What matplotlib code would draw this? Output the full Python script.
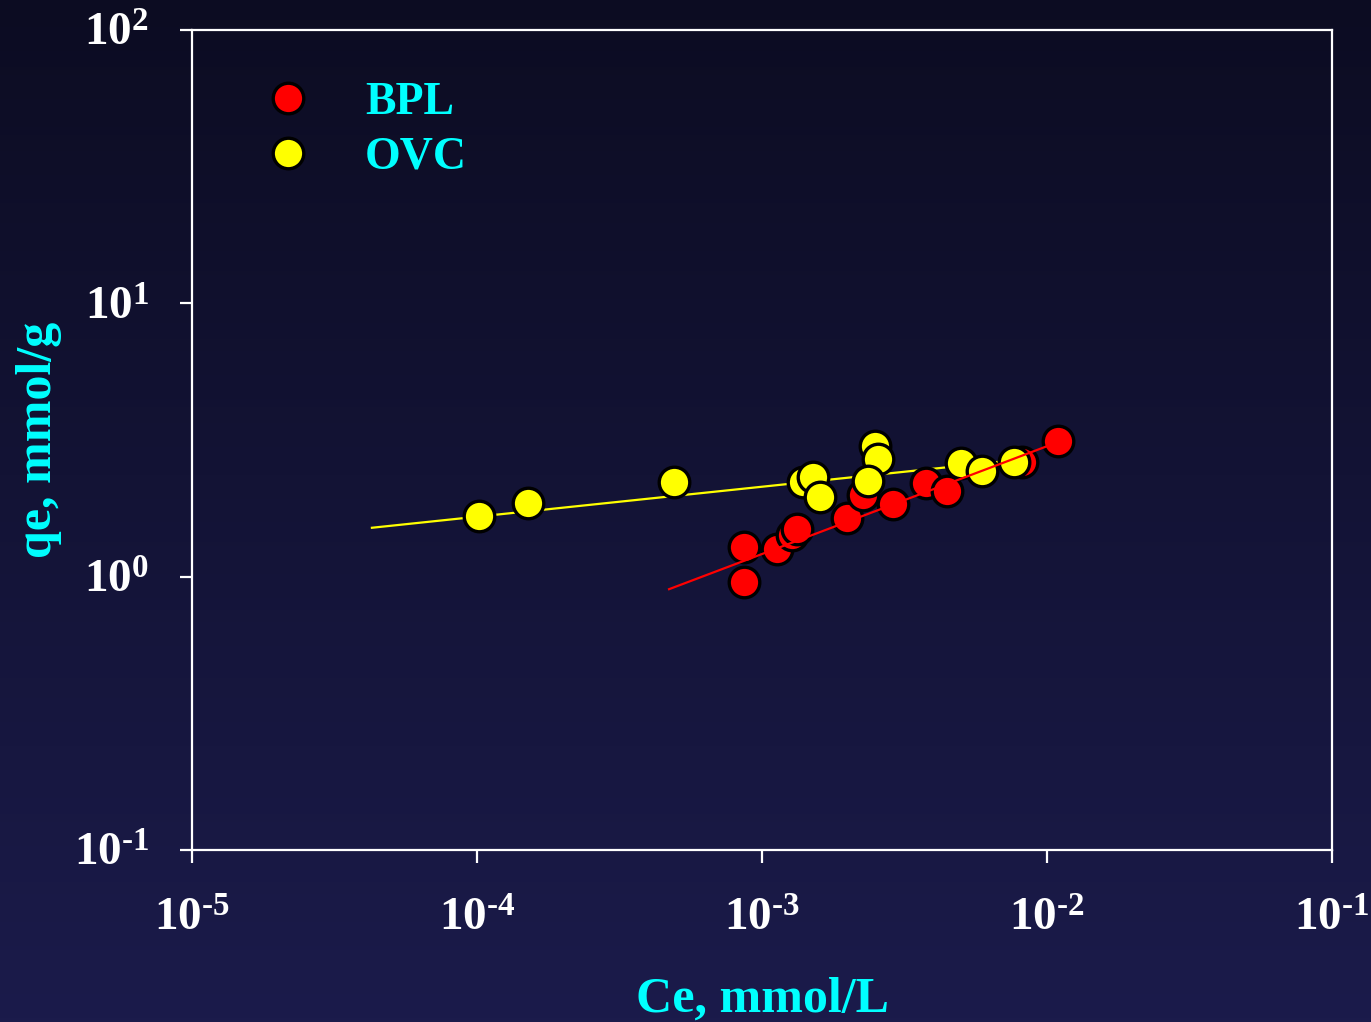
import numpy as np
import matplotlib
matplotlib.use('Agg')
import matplotlib.pyplot as plt
from matplotlib.ticker import NullLocator

# Dados (Ce em mmol/L, qe em mmol/g)
bpl_ce = [8.65e-4, 8.65e-4, 1.13e-3, 1.27e-3, 1.33e-3, 1.99e-3, 2.26e-3, 2.88e-3, 3.76e-3, 4.46e-3, 8.17e-3, 1.09e-2]
bpl_qe = [1.28, 0.956, 1.26, 1.42, 1.49, 1.64, 1.99, 1.84, 2.20, 2.06, 2.63, 3.14]
ovc_ce = [1.02e-4, 1.51e-4, 4.91e-4, 1.39e-3, 1.51e-3, 1.60e-3, 2.49e-3, 2.55e-3, 2.36e-3, 4.99e-3, 5.92e-3, 7.65e-3]
ovc_qe = [1.67, 1.86, 2.22, 2.22, 2.32, 1.96, 3.01, 2.69, 2.24, 2.60, 2.44, 2.63]

# Retas de ajuste (extremos)
bpl_fit_ce = [4.72e-4, 1.024e-2]
bpl_fit_qe = [0.90, 3.03]
ovc_fit_ce = [4.28e-5, 7.73e-3]
ovc_fit_qe = [1.51, 2.67]

xtick_vals = [1e-5, 1e-4, 1e-3, 1e-2, 1e-1]
xtick_labels = [r'$10^{\text{-5}}$', r'$10^{\text{-4}}$', r'$10^{\text{-3}}$', r'$10^{\text{-2}}$', r'$10^{\text{-1}}$']
ytick_vals = [1e-1, 1e0, 1e1, 1e2]
ytick_labels = [r'$10^{\text{-1}}$', '$10^{0}$', '$10^{1}$', '$10^{2}$']

plt.rcParams['font.family'] = 'Liberation Serif'
plt.rcParams['font.weight'] = 'bold'
plt.rcParams['mathtext.fontset'] = 'custom'
plt.rcParams['mathtext.rm'] = 'Liberation Serif:bold'
plt.rcParams['mathtext.it'] = 'Liberation Serif:bold'
plt.rcParams['mathtext.bf'] = 'Liberation Serif:bold'
plt.rcParams['mathtext.default'] = 'rm'

fig = plt.figure(figsize=(13.71, 10.22), dpi=100)

# Fundo em degradê
bg = fig.add_axes([0, 0, 1, 1], zorder=-10)
grad = np.linspace(0, 1, 256).reshape(-1, 1)
top = np.array([0x0c, 0x0c, 0x22]) / 255
bot = np.array([0x1b, 0x1b, 0x4b]) / 255
img = top + (bot - top) * grad[:, :, None]
bg.imshow(img, aspect='auto', extent=[0, 1, 0, 1], origin='upper')
bg.axis('off')

ax = fig.add_axes([0.140, 0.1683, 0.8316, 0.8023])
ax.set_facecolor('none')
ax.set_xscale('log')
ax.set_yscale('log')

ax.plot(ovc_fit_ce, ovc_fit_qe, color='#ffff00', lw=1.6, zorder=2)
ax.plot(bpl_ce, bpl_qe, 'o', color='#ff0000', mec='black', mew=2.4, ms=22, label='BPL', zorder=3)
ax.plot(ovc_ce, ovc_qe, 'o', color='#ffff00', mec='black', mew=2.4, ms=22, label='OVC', zorder=4)
ax.plot(bpl_fit_ce, bpl_fit_qe, color='#ff0000', lw=1.6, zorder=5)

ax.set_xlim(1e-5, 1e-1)
ax.set_ylim(1e-1, 1e2)
ax.set_xticks(xtick_vals)
ax.set_xticklabels(xtick_labels)
ax.set_yticks(ytick_vals)
ax.set_yticklabels(ytick_labels)
ax.xaxis.set_minor_locator(NullLocator())
ax.yaxis.set_minor_locator(NullLocator())
ax.tick_params(axis='both', which='major', direction='out', length=9, width=1.6,
               color='white', labelcolor='white', labelsize=34)
ax.tick_params(axis='x', pad=26)
ax.tick_params(axis='y', pad=22)
for s in ax.spines.values():
    s.set_color('white')
    s.set_linewidth(1.6)

ax.set_xlabel('Ce, mmol/L', color='#00ffff', fontsize=36, fontweight='bold', labelpad=26)
ax.set_ylabel('qe, mmol/g', color='#00ffff', fontsize=36, fontweight='bold', labelpad=8)

leg = ax.legend(loc='upper left', bbox_to_anchor=(0.064, 0.937), frameon=False,
                fontsize=33, handlelength=1.0, handletextpad=1.18, borderpad=0,
                borderaxespad=0, labelspacing=0.28)
for t in leg.get_texts():
    t.set_color('#00ffff')

fig.savefig('out.png', dpi=100)
